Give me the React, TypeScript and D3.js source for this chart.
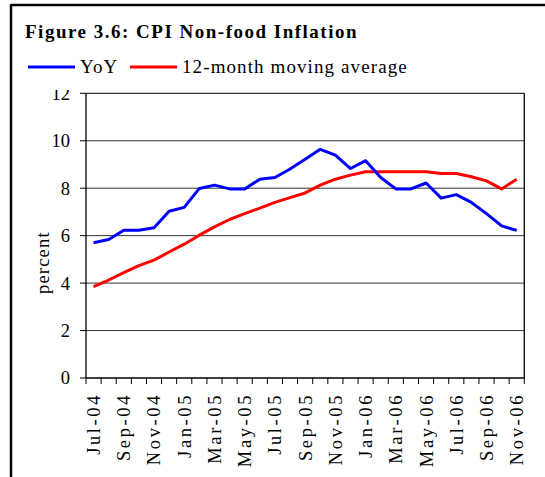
import React from 'react';
import * as d3 from 'd3';

// monthly, Jul-04 .. Nov-06
const months = [
  'Jul-04', 'Aug-04', 'Sep-04', 'Oct-04', 'Nov-04', 'Dec-04',
  'Jan-05', 'Feb-05', 'Mar-05', 'Apr-05', 'May-05', 'Jun-05',
  'Jul-05', 'Aug-05', 'Sep-05', 'Oct-05', 'Nov-05', 'Dec-05',
  'Jan-06', 'Feb-06', 'Mar-06', 'Apr-06', 'May-06', 'Jun-06',
  'Jul-06', 'Aug-06', 'Sep-06', 'Oct-06', 'Nov-06',
];

const yoy = [
  5.70, 5.84, 6.23, 6.23, 6.33, 7.03, 7.19, 7.99, 8.13, 7.97,
  7.97, 8.38, 8.45, 8.81, 9.22, 9.64, 9.39, 8.83, 9.16, 8.45,
  7.97, 7.97, 8.22, 7.58, 7.73, 7.40, 6.93, 6.41, 6.22,
];

const movingAvg = [
  3.85, 4.13, 4.44, 4.74, 4.97, 5.31, 5.64, 6.02, 6.37, 6.68,
  6.93, 7.16, 7.40, 7.60, 7.80, 8.13, 8.38, 8.55, 8.69, 8.69,
  8.69, 8.69, 8.69, 8.62, 8.62, 8.48, 8.31, 7.97, 8.38,
];

const yTicks = [0, 2, 4, 6, 8, 10, 12];

const W = 545;
const H = 477;
const margin = { top: 93.3, right: 20.7, bottom: 99, left: 86 };
const font = '"Liberation Serif", "Times New Roman", serif';

export default function App() {
  const x = d3.scaleBand<string>()
    .domain(months)
    .range([margin.left, W - margin.right]);

  const y = d3.scaleLinear()
    .domain([0, 12])
    .range([H - margin.bottom, margin.top]);

  const line = d3.line<number>()
    .x((_, i) => x(months[i])! + x.bandwidth() / 2)
    .y(d => y(d));

  const x0 = margin.left;
  const x1 = W - margin.right;
  const y0 = H - margin.bottom;
  const y1 = margin.top;

  // tick marks sit on the band boundaries
  const boundaries = months.map(m => x(m)!).concat([x1]);

  return (
    <svg width={W} height={H} style={{ position: 'absolute', left: 0, top: 0, fontFamily: font }}>
      <defs>
        <clipPath id="tickclip">
          <rect x={0} y={90} width={W} height={H} />
        </clipPath>
      </defs>
      <rect x={0} y={0} width={W} height={H} fill="#fff" />

      {/* outer frame */}
      <line x1={11} x2={W} y1={5} y2={5} stroke="#000" strokeWidth={2.5} />
      <line x1={11} x2={11} y1={4} y2={H} stroke="#000" strokeWidth={2.5} />

      {/* title */}
      <text x={25} y={38} fontSize={19} fontWeight="bold" letterSpacing={1.5}>
        Figure 3.6: CPI Non-food Inflation
      </text>

      {/* legend */}
      <line x1={28} x2={75} y1={67} y2={67} stroke="#0000ff" strokeWidth={3} />
      <text x={80} y={73} fontSize={19} letterSpacing={1.1}>YoY</text>
      <line x1={130} x2={177} y1={67} y2={67} stroke="#ff0000" strokeWidth={3} />
      <text x={182} y={73} fontSize={19} letterSpacing={1.1}>12-month moving average</text>

      {/* grid */}
      {yTicks.filter(t => t > 0 && t < 12).map(t => (
        <line key={t} x1={x0} x2={x1} y1={y(t)} y2={y(t)} stroke="#333" strokeWidth={1} />
      ))}

      {/* plot border */}
      <line x1={x0} x2={x1} y1={y1} y2={y1} stroke="#000" strokeWidth={1} />
      <line x1={x1} x2={x1} y1={y1} y2={y0} stroke="#000" strokeWidth={1.3} />

      {/* y axis */}
      <g clipPath="url(#tickclip)">
        <line x1={x0} x2={x0} y1={y1} y2={y0} stroke="#000" strokeWidth={1.3} />
        {yTicks.map(t => (
          <g key={t}>
            <line x1={x0 - 6} x2={x0} y1={y(t)} y2={y(t)} stroke="#000" strokeWidth={1} />
            <text x={x0 - 16} y={y(t)} dy="0.35em" textAnchor="end" fontSize={18.5}>
              {t}
            </text>
          </g>
        ))}
      </g>
      <text
        transform={`translate(49,${(y0 + y1) / 2 + 27}) rotate(-90)`}
        textAnchor="middle"
        fontSize={18.5}
        letterSpacing={1.2}
      >
        percent
      </text>

      {/* x axis */}
      <line x1={x0} x2={x1} y1={y0} y2={y0} stroke="#000" strokeWidth={1.3} />
      {boundaries.map((b, i) => (
        <line key={i} x1={b} x2={b} y1={y0} y2={y0 + 6} stroke="#000" strokeWidth={1} />
      ))}
      {months.map((m, i) => i % 2 === 0 ? (
        <text
          key={m}
          transform={`translate(${x(m)! + x.bandwidth() / 2},${y0 + 15}) rotate(-90)`}
          textAnchor="end"
          dy="0.35em"
          fontSize={18.5}
          letterSpacing={2.6}
        >
          {m}
        </text>
      ) : null)}

      {/* series */}
      <path d={line(movingAvg)!} fill="none" stroke="#ff0000" strokeWidth={3} strokeLinejoin="round" />
      <path d={line(yoy)!} fill="none" stroke="#0000ff" strokeWidth={3} strokeLinejoin="round" />
    </svg>
  );
}
